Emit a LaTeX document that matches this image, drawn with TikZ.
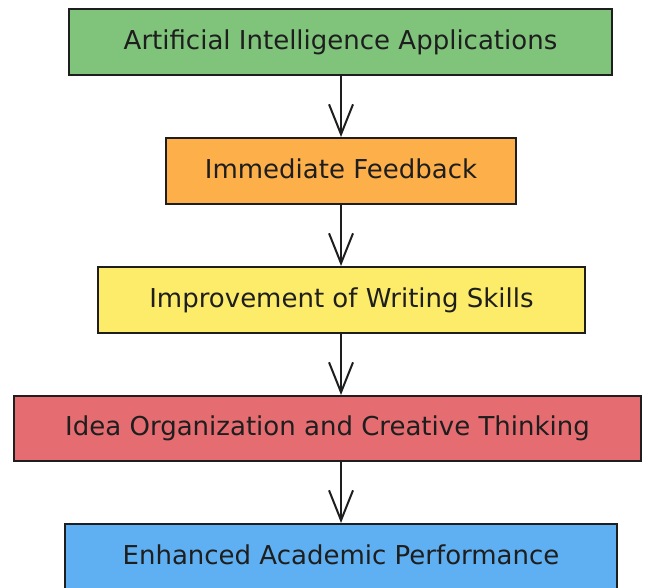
\documentclass[tikz,border=0pt]{standalone}
\usepackage{fontspec}
\setmainfont{DejaVu Sans}
\usetikzlibrary{arrows.meta}
\definecolor{cgreen}{HTML}{7FC47A}
\definecolor{corange}{HTML}{FDB04A}
\definecolor{cyellow}{HTML}{FCEC6A}
\definecolor{cred}{HTML}{E56C70}
\definecolor{cblue}{HTML}{5FB0F2}
\definecolor{cink}{HTML}{1E1E1E}
\tikzset{
  box/.style={draw=cink, line width=2pt, inner sep=0pt, anchor=north west,
    font=\fontsize{26}{30}\selectfont, text=cink, text height=19pt, text depth=5pt},
  flow/.style={draw=cink, line width=2pt, -{Straight Barb[length=30pt,width=24pt,line width=2pt]}}
}
\begin{document}
\begin{tikzpicture}[x=1pt,y=-1pt]
\useasboundingbox (0,0) rectangle (656,587);
\node[box, fill=cgreen, minimum width=543pt, minimum height=66pt] (n1) at (68,8) {Artificial Intelligence Applications};
\node[box, fill=corange, minimum width=350pt, minimum height=66pt] (n2) at (165,137) {Immediate Feedback};
\node[box, fill=cyellow, minimum width=487pt, minimum height=66pt] (n3) at (97,266) {Improvement of Writing Skills};
\node[box, fill=cred, minimum width=627pt, minimum height=65pt] (n4) at (13,395) {Idea Organization and Creative Thinking};
\node[box, fill=cblue, minimum width=552pt, minimum height=66pt] (n5) at (64,523) {Enhanced Academic Performance};
\draw[flow] (n1.south -| 341,0) -- (n2.north -| 341,0);
\draw[flow] (n2.south -| 341,0) -- (n3.north -| 341,0);
\draw[flow] (n3.south -| 341,0) -- (n4.north -| 341,0);
\draw[flow] (n4.south -| 341,0) -- (n5.north -| 341,0);
\end{tikzpicture}
\end{document}
